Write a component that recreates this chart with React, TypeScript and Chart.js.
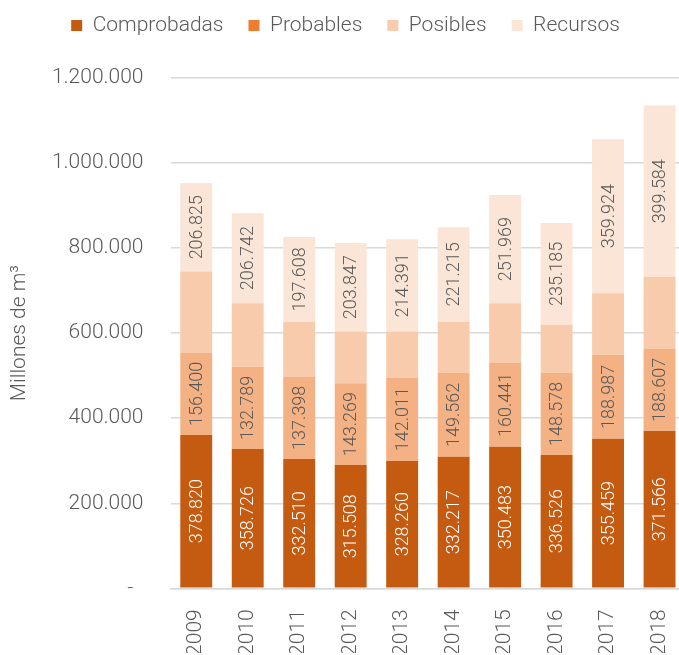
import React, { useEffect, useRef } from 'react';
import { Chart, registerables } from 'chart.js';

Chart.register(...registerables);

// Categories
const years = ['2009', '2010', '2011', '2012', '2013', '2014', '2015', '2016', '2017', '2018'];

// Segment heights as drawn in the picture
const comprobadas = [360700, 327800, 304000, 290000, 299500, 309600, 333000, 313600, 351500, 370000];
const probables = [192900, 192900, 194000, 192000, 196500, 196400, 197000, 193400, 197500, 193000];
const posibles = [191400, 149900, 129000, 122000, 108000, 121000, 140600, 112500, 145000, 168800];
const recursos = [208000, 211400, 199000, 208000, 217000, 222000, 254400, 239500, 362000, 403700];

// Printed data labels
const comprobadasLabels = [378820, 358726, 332510, 315508, 328260, 332217, 350483, 336526, 355459, 371566];
const probablesLabels = [156400, 132789, 137398, 143269, 142011, 149562, 160441, 148578, 188987, 188607];
const recursosLabels = [206825, 206742, 197608, 203847, 214391, 221215, 251969, 235185, 359924, 399584];

// Axis
const yMin = 0;
const yMax = 1200000;
const yStep = 200000;

const FONT = 'Roboto';
const TEXT = '#595959';
const barColors = ['#C55A11', '#F4B183', '#F8CBAD', '#FBE5D6'];
const legendColors = ['#C55A11', '#ED7D31', '#F8CBAD', '#FBE5D6'];

const fmt = (v: number) => String(v).replace(/\B(?=(\d{3})+(?!\d))/g, '.');

const barLabels = {
  id: 'barLabels',
  afterDatasetsDraw(chart: any) {
    const ctx = chart.ctx;
    chart.data.datasets.forEach((ds: any, i: number) => {
      const texts = ds.valueLabels;
      if (!texts) return;
      const meta = chart.getDatasetMeta(i);
      meta.data.forEach((bar: any, j: number) => {
        const { x, y, base } = bar.getProps(['x', 'y', 'base'], true);
        ctx.save();
        ctx.translate(x, (y + base) / 2);
        ctx.rotate(-Math.PI / 2);
        ctx.font = `300 18px ${FONT}`;
        ctx.fillStyle = ds.labelColor;
        ctx.textAlign = 'center';
        ctx.textBaseline = 'middle';
        ctx.fillText(fmt(texts[j]), 0, 1);
        ctx.restore();
      });
    });
  },
};

const legendShift = {
  id: 'legendShift',
  afterLayout(chart: any) {
    const lg = chart.legend;
    if (lg) {
      lg.top -= 32;
      lg.bottom -= 32;
      lg.left -= 4;
      lg.right -= 4;
    }
  },
};

export default function App() {
  const ref = useRef<HTMLCanvasElement | null>(null);

  useEffect(() => {
    if (!ref.current) return;
    const chart = new Chart(ref.current, {
      type: 'bar',
      data: {
        labels: years,
        datasets: [
          { label: 'Comprobadas', data: comprobadas, backgroundColor: barColors[0], valueLabels: comprobadasLabels, labelColor: '#FFFFFF' } as any,
          { label: 'Probables', data: probables, backgroundColor: barColors[1], valueLabels: probablesLabels, labelColor: TEXT } as any,
          { label: 'Posibles', data: posibles, backgroundColor: barColors[2] } as any,
          { label: 'Recursos', data: recursos, backgroundColor: barColors[3], valueLabels: recursosLabels, labelColor: TEXT } as any,
        ],
      },
      options: {
        responsive: false,
        animation: false,
        datasets: { bar: { categoryPercentage: 1, barPercentage: 0.62 } },
        layout: { padding: { left: 6, right: 5, top: 22, bottom: 2 } },
        plugins: {
          tooltip: { enabled: false },
          legend: {
            position: 'top',
            labels: {
              font: { family: FONT, size: 21, weight: '300' },
              color: TEXT,
              boxWidth: 11,
              boxHeight: 11,
              padding: 25,
              generateLabels: (c: any) => {
                const items = (Chart.defaults.plugins.legend.labels as any).generateLabels(c);
                items.forEach((it: any, i: number) => {
                  it.fillStyle = legendColors[i];
                  it.strokeStyle = legendColors[i];
                  it.lineWidth = 0;
                });
                return items;
              },
            },
          },
        },
        scales: {
          x: {
            stacked: true,
            grid: { display: false },
            border: { display: true, color: '#D9D9D9', width: 1.5 },
            afterFit: (s: any) => {
              s.height = 64.7;
            },
            ticks: {
              minRotation: 90,
              maxRotation: 90,
              padding: 13,
              color: TEXT,
              font: { family: FONT, size: 21, weight: '300' },
            },
          },
          y: {
            stacked: true,
            min: yMin,
            max: yMax,
            border: { display: false },
            grid: { color: '#D9D9D9', lineWidth: 1.5, drawTicks: false },
            afterFit: (s: any) => {
              s.width = 164.5;
            },
            ticks: {
              stepSize: yStep,
              padding: 27,
              color: TEXT,
              font: { family: FONT, size: 21, weight: '300' },
              callback: (v: any) => (Number(v) === 0 ? '-  ' : fmt(Number(v))),
            },
            title: {
              display: true,
              text: 'Millones de m³',
              color: TEXT,
              font: { family: FONT, size: 21, weight: '300' },
              padding: { top: 1, bottom: 10 },
            },
          },
        },
      },
      plugins: [barLabels, legendShift],
    } as any);
    return () => chart.destroy();
  }, []);

  return (
    <div style={{ position: 'absolute', left: 0, top: 0, width: 679, height: 655, overflow: 'hidden' }}>
      <canvas ref={ref} width={698} height={655} style={{ display: 'block' }} />
    </div>
  );
}
